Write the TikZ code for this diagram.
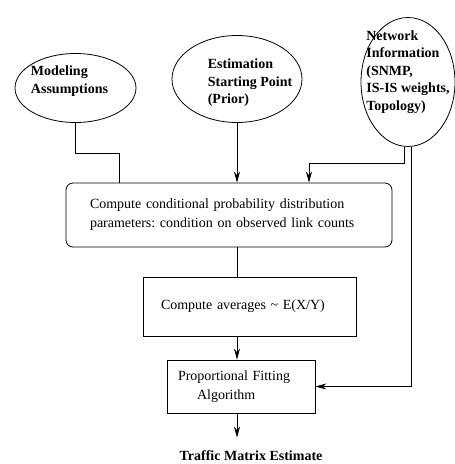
\documentclass[tikz,border=0pt]{standalone}
\usepackage{fontspec}
\setmainfont{Liberation Serif}
\usetikzlibrary{shapes.geometric,arrows.meta}
\tikzstyle{oval}=[ellipse, draw, inner sep=0pt]
\tikzstyle{stage}=[rectangle, draw, align=left, font=\fontsize{14}{19}\selectfont]
\tikzstyle{boldtext}=[align=left, inner sep=0pt, font=\fontsize{14}{17.5}\selectfont\bfseries]

\begin{document}
\frenchspacing
\begin{tikzpicture}[x=1pt, y=-1pt, line width=0.8pt, >={Stealth[length=11pt,width=6pt]}]
      \useasboundingbox (0,0) rectangle (455,464);

      % inputs
      \node[oval, minimum width=121, minimum height=69] (assum) at (75.5,88) {};
      \node[boldtext] (assumtext) at (69.5,81) {Modeling\\Assumptions};

      \node[oval, minimum width=130, minimum height=87] (prior) at (237,79) {};
      \node[boldtext] (priortext) at (250,83) {Estimation\\Starting Point\\(Prior)};

      \node[oval, minimum width=94, minimum height=129] (net) at (408,82) {};
      \node[boldtext] (nettext) at (408,72) {Network\\Information\\(SNMP,\\IS-IS weights,\\Topology)};

      % processing steps
      \node[stage, rounded corners=7, minimum width=326, minimum height=64,
            text width=278, inner xsep=24] (compute) at (229,215)
            {Compute conditional probability distribution\\parameters: condition on observed link counts};
      \node[stage, minimum width=213, minimum height=59,
            text width=177, inner xsep=18] (avg) at (249.5,306.5)
            {Compute averages \textasciitilde{} E(X/Y)};
      \node[stage, minimum width=148, minimum height=53,
            text width=126, inner xsep=11] (fit) at (241,386.5)
            {Proportional Fitting\\\hspace*{19pt}Algorithm};

      \node[boldtext] (result) at (251,456) {Traffic Matrix Estimate};

      \coordinate (bend1) at (119,153);
      \coordinate (bend2) at (309,163);

      \draw (assum.south) |- (bend1) -- (bend1 |- compute.north);
      \draw[->] (prior.south) -- (prior.south |- compute.north);
      \draw[->] ([xshift=-3.5]net.south) |- (bend2) -- (bend2 |- compute.north);
      \draw[->] ([xshift=3.5]net.south) |- (fit.east);

      \draw (compute.south -| prior) -- (avg.north -| prior);
      \draw[->] (avg.south -| prior) -- (fit.north -| prior);
      \draw[->] (fit.south -| prior) -- ([yshift=13]result.north -| prior);
\end{tikzpicture}
\end{document}
